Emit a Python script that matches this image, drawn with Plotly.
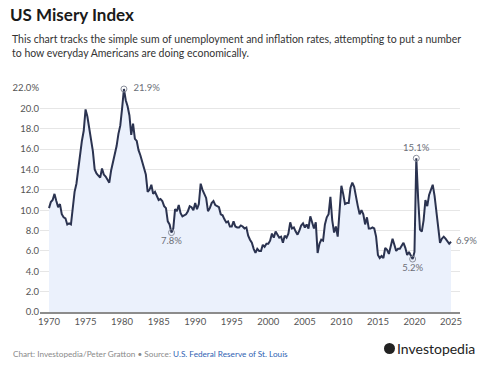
import pandas as pd
import plotly.graph_objects as go

# Quarterly misery index (unemployment + inflation), %
misery_1970s = [10.2, 10.8, 11.0, 11.6,
                10.9, 10.3, 10.6, 9.6,
                9.3, 9.2, 8.6, 8.7,
                8.6, 10.2, 11.8, 12.6,
                14.2, 15.3, 16.8, 17.8,
                19.9, 19.2, 18.2, 17.0,
                15.8, 14.0, 13.6, 13.4,
                13.2, 14.1, 13.5, 13.3,
                13.0, 12.7, 13.9, 14.7,
                15.3, 16.3, 17.5, 18.3]
misery_1980s = [20.0, 21.9, 20.8, 20.2,
                19.3, 17.4, 18.5, 17.0,
                16.8, 15.9, 15.4, 14.8,
                14.0, 13.5, 11.8, 12.0,
                12.5, 11.6, 11.8, 11.4,
                11.0, 11.1, 10.9, 10.4,
                10.2, 8.9, 8.6, 7.8,
                8.2, 10.1, 9.9, 10.5,
                9.7, 9.4, 9.5, 9.6,
                9.9, 10.4, 10.3, 10.0]
misery_1990s = [10.7, 10.1, 10.6, 12.6,
                12.0, 11.6, 11.2, 9.9,
                10.2, 10.7, 10.9, 10.5,
                10.4, 10.3, 9.6, 9.5,
                9.1, 8.8, 8.9, 8.4,
                8.4, 8.9, 8.4, 8.3,
                8.3, 8.5, 8.4, 8.2,
                8.3, 7.5, 7.1, 6.8,
                6.2, 5.8, 6.2, 6.0,
                6.0, 6.6, 6.4, 6.7]
misery_2000s = [6.7, 7.0, 7.7, 7.3,
                7.9, 7.6, 7.3, 7.4,
                6.8, 7.5, 7.3, 7.7,
                8.8, 8.2, 8.3, 7.9,
                7.6, 8.0, 8.5, 8.7,
                8.3, 8.6, 8.2, 9.4,
                8.7, 8.2, 8.8, 5.8,
                6.7, 7.1, 7.0, 8.6,
                9.3, 9.6, 11.3, 9.0,
                7.8, 8.4, 7.4, 10.4]
misery_2010s = [12.4, 11.6, 10.6, 10.7,
                10.7, 12.2, 12.7, 12.3,
                11.2, 10.4, 9.6, 10.0,
                9.6, 8.6, 9.3, 8.2,
                8.2, 8.3, 8.2, 7.4,
                5.6, 5.3, 5.5, 5.3,
                6.3, 6.1, 5.7, 6.5,
                7.2, 6.6, 6.0, 6.2,
                6.2, 6.5, 6.8, 6.3,
                5.6, 5.9, 5.6, 5.2]
misery_2020s = [5.9, 15.1, 11.2, 8.1,
                7.9, 9.0, 11.0, 10.4,
                11.5, 12.0, 12.5, 11.4,
                9.8, 8.3, 6.8, 7.2,
                7.4, 7.2, 7.0, 6.7,
                6.9]

misery = misery_1970s + misery_1980s + misery_1990s + misery_2000s + misery_2010s + misery_2020s
dates = pd.date_range("1970-01-01", periods=len(misery), freq="QS")

# Highlighted observations (dates)
highlight_dates = ["1980-04-01", "1986-10-01", "2019-10-01", "2020-04-01"]
label_positions = ["middle right", "bottom center", "bottom center", "top center"]

year_ticks = list(range(1970, 2030, 5))
y_ticks = [0, 2, 4, 6, 8, 10, 12, 14, 16, 18, 20, 22]
y_tick_text = [f"{v:.1f}" for v in y_ticks[:-1]] + [f"{y_ticks[-1]:.1f}%"]

FONT = "Lato"
LINE = "#2b3350"
GRAY = "#6b6f78"

series = pd.Series(misery, index=dates)

fig = go.Figure()
fig.add_trace(go.Scatter(
    x=dates, y=misery, mode="lines",
    line=dict(color=LINE, width=2),
    fill="tozeroy", fillcolor="#ebf1fc",
    hoverinfo="skip", showlegend=False,
))

hx = [pd.Timestamp(d) for d in highlight_dates]
hy = [series[d] for d in hx]
fig.add_trace(go.Scatter(
    x=hx, y=hy, mode="markers+text",
    marker=dict(symbol="circle-open", size=6, color="#8a8f9c", line=dict(width=1)),
    text=[f"  {v:.1f}%  " if p == "middle right" else f"{v:.1f}%" for v, p in zip(hy, label_positions)],
    textposition=label_positions,
    textfont=dict(family=FONT, size=9.5, color=GRAY),
    cliponaxis=False, showlegend=False, hoverinfo="skip",
))
# last value label
fig.add_trace(go.Scatter(
    x=[dates[-1]], y=[misery[-1]], mode="text",
    text=[f"  {misery[-1]:.1f}%"], textposition="middle right",
    textfont=dict(family=FONT, size=9.5, color=GRAY),
    cliponaxis=False, showlegend=False, hoverinfo="skip",
))

W, H = 480, 367
ml, mr, mt, mb = 40, 20, 88, 55
pw, ph = W - ml - mr, H - mt - mb

def px(x):
    return (x - ml) / pw

def py(y):
    return (H - mb - y) / ph

fig.update_layout(
    width=W, height=H,
    margin=dict(l=ml, r=mr, t=mt, b=mb),
    paper_bgcolor="white", plot_bgcolor="white",
    font=dict(family=FONT, color="#333333"),
    title=dict(text="<b>US Misery Index</b>", x=10 / W, xanchor="left",
               y=1 - 15 / H, yanchor="middle", xref="container", yref="container",
               font=dict(family=FONT, size=17, color="#1a1a1a")),
    xaxis=dict(
        type="date",
        range=["1968-10-07", "2026-03-25"],
        tickvals=[pd.Timestamp(f"{y}-01-01") for y in year_ticks],
        ticktext=[str(y) for y in year_ticks],
        showgrid=False, zeroline=False,
        showline=True, linecolor="#8c8c8c", linewidth=1.5,
        ticks="", tickfont=dict(family=FONT, size=9.5, color="#555555"),
    ),
    yaxis=dict(
        range=[0, 22], tickvals=y_ticks, ticktext=y_tick_text,
        showgrid=True, gridcolor="#e6e6e6", gridwidth=1,
        zeroline=False, showline=False, ticks="",
        tickfont=dict(family=FONT, size=9.5, color="#555555"),
    ),
    annotations=[
        dict(text="This chart tracks the simple sum of unemployment and inflation rates, attempting to put a number<br>to how everyday Americans are doing economically.",
             xref="paper", yref="paper", x=px(10), y=py(31), xanchor="left", yanchor="top",
             align="left", showarrow=False,
             font=dict(family=FONT, size=10.5, color="#333333")),
        dict(text="Chart: Investopedia/Peter Gratton • Source: <span style='color:#2f5fb3'>U.S. Federal Reserve of St. Louis</span>",
             xref="paper", yref="paper", x=px(11), y=py(354), xanchor="left", yanchor="middle",
             showarrow=False, font=dict(family=FONT, size=8.2, color="#8a8a8a")),
        dict(text="Investopedia",
             xref="paper", yref="paper", x=px(477), y=py(348), xanchor="right", yanchor="middle",
             showarrow=False, font=dict(family=FONT, size=14, color="#222222")),
    ],
    shapes=[
        dict(type="circle", xref="paper", yref="paper",
             x0=px(384), x1=px(395), y0=py(354), y1=py(343),
             fillcolor="#222222", line=dict(width=0)),
    ],
)

fig.write_html("out.html", config={"displayModeBar": False},
               post_script="document.body.style.margin='0';document.body.style.padding='0';")
